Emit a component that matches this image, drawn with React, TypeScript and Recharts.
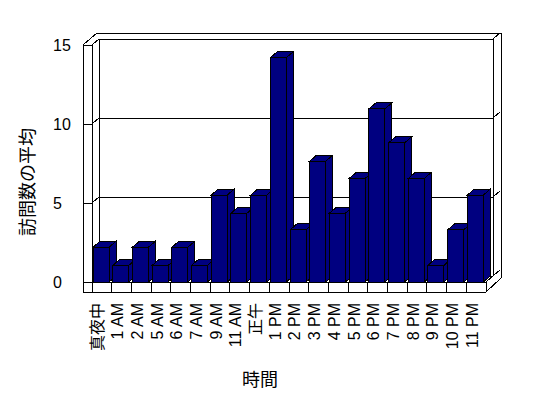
import { Bar, BarChart, CartesianGrid, XAxis, YAxis } from "recharts"

const categories = ["真夜中", "1 AM", "2 AM", "5 AM", "6 AM", "7 AM", "9 AM", "11 AM", "正午", "1 PM", "2 PM", "3 PM", "4 PM", "5 PM", "6 PM", "7 PM", "8 PM", "9 PM", "10 PM", "11 PM"]
const visits = [2.2, 1.05, 2.2, 1.05, 2.2, 1.05, 5.5, 4.35, 5.5, 14.2, 3.3, 7.65, 4.35, 6.55, 10.95, 8.8, 6.55, 1.05, 3.3, 5.5]
const yTicks = [0, 5, 10, 15]

const data = categories.map((hour, i) => ({ hour, visits: visits[i] }))

// layout (svg coords, the svg sits at the 8px body margin)
const W = 540
const H = 382
const PL = 84
const PR = 478
const PT = 37
const PB = 274
const DX = 7
const DY = 6
const T = 9
const FLOOR = 10
const NAVY = "#000080"
const FONT = "'Liberation Sans', 'Noto Sans CJK JP', sans-serif"
const SLOT = (PR - PL) / categories.length

function Bar3D(props: any) {
  const { x, y, width, height } = props
  const fx = x - 1
  const top = `${fx},${y} ${fx + DX},${y - DY} ${fx + width + DX},${y - DY} ${fx + width},${y}`
  const side = `${fx + width},${y} ${fx + width + DX},${y - DY} ${fx + width + DX},${y + height - DY} ${fx + width},${y + height}`
  return (
    <g stroke="#000" strokeWidth={1} fill={NAVY} shapeRendering="crispEdges">
      <polygon points={top} />
      <polygon points={side} />
      <rect x={fx} y={y} width={width} height={height} />
    </g>
  )
}

function wallLine(p: any) {
  const { x1, x2, y1 } = p
  const y = y1
  return (
    <g key={`wall-${y}`} stroke="#000" strokeWidth={1} shapeRendering="crispEdges">
      <line x1={x1 - T} y1={y} x2={x1} y2={y} />
      <line x1={x1} y1={y} x2={x1 + DX} y2={y - DY} />
      <line x1={x1 + DX} y1={y - DY} x2={x2 + DX} y2={y - DY} />
      <line x1={x2 + DX} y1={y - DY} x2={x2 + 2 * DX} y2={y - 2 * DY} />
    </g>
  )
}

function YTick(props: any) {
  const { y, payload } = props
  return (
    <text x={45} y={y} dy="0.35em" fontSize={16} fontFamily={FONT} fill="#000" textAnchor="start">
      {payload.value}
    </text>
  )
}

function XTick(props: any) {
  const { x, payload } = props
  const left = x - SLOT / 2
  const ty = PB + FLOOR + 11
  const tx = x - 4
  return (
    <g>
      <line x1={left} y1={PB} x2={left} y2={PB + FLOOR} stroke="#000" shapeRendering="crispEdges" />
      <text
        x={tx}
        y={ty}
        transform={`rotate(-90, ${tx}, ${ty})`}
        textAnchor="end"
        dy="0.35em"
        fontSize={16}
        fontFamily={FONT}
        fill="#000"
      >
        {payload.value}
      </text>
    </g>
  )
}

function Frame() {
  const s = { stroke: "#000", strokeWidth: 1 }
  return (
    <svg width={W} height={H + 8} style={{ position: "absolute", left: 0, top: 0 }} shapeRendering="crispEdges">
      {/* left wall */}
      <line x1={PL - T} y1={PT} x2={PL - T} y2={PB + FLOOR} {...s} />
      <line x1={PL} y1={PT} x2={PL} y2={PB} {...s} />
      <line x1={PL - T} y1={PT} x2={PL} y2={PT} {...s} />
      <line x1={PL - T} y1={PT} x2={PL - T + 2 * DX} y2={PT - 2 * DY} {...s} />
      <line x1={PL + DX} y1={PT - DY} x2={PL + DX} y2={PB - DY} {...s} />
      {/* top and right */}
      <line x1={PL - T + 2 * DX} y1={PT - 2 * DY} x2={PR + 2 * DX + 1} y2={PT - 2 * DY} {...s} />
      <line x1={PR + DX} y1={PT - DY} x2={PR + DX} y2={PB - DY} {...s} />
      <line x1={PR + 2 * DX + 1} y1={PT - 2 * DY} x2={PR + 2 * DX + 1} y2={PB - 4} {...s} />
      {/* floor */}
      <line x1={PL - T} y1={PB} x2={PR} y2={PB} {...s} />
      <line x1={PL - T} y1={PB + FLOOR} x2={PR} y2={PB + FLOOR} {...s} />
      <line x1={PR} y1={PB} x2={PR} y2={PB + FLOOR} {...s} />
      <line x1={PR} y1={PB} x2={PR + DX} y2={PB - DY} {...s} />
      <line x1={PR} y1={PB + FLOOR} x2={PR + 2 * DX + 1} y2={PB - 4} {...s} />
      <text x={252} y={372} textAnchor="middle" dy="0.35em" fontSize={18} fontFamily={FONT} fill="#000">
        時間
      </text>
      <text
        x={20}
        y={174}
        transform="rotate(-90, 20, 174)"
        textAnchor="middle"
        dy="0.35em"
        fontSize={18}
        fontFamily={FONT}
        fill="#000"
      >
        訪問数の平均
      </text>
    </svg>
  )
}

export default function App() {
  return (
    <div style={{ position: "relative", width: W, height: H }}>
      <Frame />
      <BarChart width={W} height={H} data={data} margin={{ top: PT, right: W - PR, left: PL - 50, bottom: 0 }} barSize={16}>
        <CartesianGrid vertical={false} horizontal={wallLine} />
        <XAxis dataKey="hour" interval={0} height={H - PB} axisLine={false} tickLine={false} tick={XTick} />
        <YAxis width={50} domain={[0, 15]} ticks={yTicks} axisLine={false} tickLine={false} tick={YTick} />
        <Bar dataKey="visits" shape={Bar3D} isAnimationActive={false} />
      </BarChart>
    </div>
  )
}
